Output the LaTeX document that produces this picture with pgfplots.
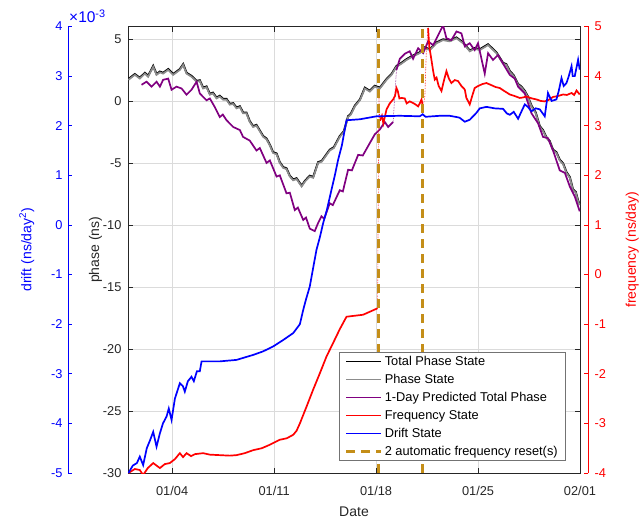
\documentclass[border=0pt]{standalone}
\usepackage{fontspec}
\setmainfont{Liberation Sans}
\usepackage{pgfplots}
\pgfplotsset{compat=1.18}
\usepackage{pgfplotstable}
\definecolor{mgray}{RGB}{140,140,140}
\definecolor{mpurple}{RGB}{128,0,128}
\definecolor{gold}{RGB}{196,142,24}
\definecolor{axgray}{RGB}{38,38,38}

% phase state (ns) vs day of January
\pgfplotstableread{
x y
1.0 1.7
1.44 2.1
1.78 1.8
2.13 2.2
2.35 1.95
2.70 2.75
2.93 2.1
3.16 2.3
3.38 2.2
3.73 2.5
4.07 2.1
4.30 2.3
4.53 2.5
4.76 2.9
4.99 2.2
5.33 1.95
5.68 1.55
5.90 1.6
6.13 1.0
6.36 1.1
6.59 0.5
6.80 0.6
7.05 0.2
7.27 0.35
7.50 0.1
7.73 0.1
7.96 -0.3
8.19 -0.25
8.42 -0.6
8.65 -0.5
8.87 -1.0
9.10 -1.0
9.33 -1.7
9.56 -2.1
9.79 -2.0
10.25 -2.9
10.48 -3.1
10.71 -3.6
10.93 -4.2
11.17 -4.3
11.39 -5.0
11.62 -5.4
11.85 -5.5
12.08 -6.1
12.31 -6.4
12.54 -6.3
12.89 -6.9
13.12 -6.5
13.45 -6.1
13.68 -6.2
14.02 -5.0
14.27 -4.9
14.82 -4.0
15.10 -3.8
15.51 -2.9
15.79 -2.5
16.08 -1.3
16.27 -1.1
16.54 -0.45
16.89 0.05
17.23 1.0
17.57 0.75
17.91 1.15
18.26 1.0
18.72 1.7
19.06 2.1
19.40 2.75
19.74 3.0
20.09 3.3
20.54 3.6
21.00 3.85
21.34 4.25
21.69 4.1
22.15 4.65
22.60 4.9
23.06 4.8
23.52 5.05
23.97 4.65
24.43 4.0
24.77 4.2
25.12 4.1
25.69 4.5
25.95 4.2
26.26 3.85
26.72 3.0
26.94 2.9
27.18 2.35
27.45 2.0
27.75 1.3
27.97 1.1
28.21 0.75
28.42 0.3
28.67 -0.45
28.96 -1.0
29.24 -2.1
29.45 -2.4
29.70 -3.0
29.92 -3.3
30.15 -4.0
30.38 -4.2
30.61 -4.8
30.84 -5.1
31.07 -5.8
31.30 -6.2
31.52 -7.2
31.71 -7.4
31.87 -8.1
31.98 -8.4
}\phasetab

% 1-day predicted total phase (ns), first part
\pgfplotstableread{
x y
1.90 1.3
2.24 1.55
2.59 1.15
2.93 1.55
3.16 1.15
3.38 1.7
3.73 1.8
3.96 0.9
4.30 1.15
4.65 1.0
4.99 0.5
5.33 0.9
5.68 1.55
5.90 0.6
6.36 0.05
6.59 0.2
6.93 -0.5
7.27 -1.3
7.48 -1.1
7.73 -1.55
8.19 -2.1
8.65 -2.35
8.87 -2.9
9.33 -3.2
9.79 -4.0
10.02 -3.8
10.48 -5.0
10.71 -4.8
11.17 -6.1
11.39 -6.0
11.85 -7.45
12.08 -7.4
12.42 -8.8
12.63 -8.6
13.00 -9.6
13.19 -9.4
13.45 -10.3
13.79 -10.5
14.00 -9.9
14.25 -9.3
14.44 -9.5
14.82 -8.25
15.03 -8.4
15.51 -7.2
15.72 -7.3
16.08 -5.55
16.34 -5.6
16.77 -4.35
17.09 -4.4
17.57 -3.4
17.91 -2.7
18.26 -2.3
18.60 -1.7
18.83 -2.1
19.17 -1.7
}\predA

% 1-day predicted total phase (ns), second part
\pgfplotstableread{
x y
19.40 2.5
19.63 3.4
19.97 3.8
20.31 4.0
20.54 3.4
20.89 4.25
21.23 3.85
21.57 4.8
21.92 4.5
22.26 5.3
22.60 6.1
22.83 5.05
23.17 4.9
23.52 5.6
23.86 5.45
24.09 4.4
24.43 4.65
24.77 4.1
25.00 4.65
25.46 2.2
25.69 3.85
26.03 3.3
26.37 3.7
26.72 3.0
27.18 2.1
27.52 1.8
27.75 1.15
28.21 0.6
28.67 -1.0
29.12 -1.8
29.46 -2.9
29.80 -3.0
30.15 -4.0
30.61 -5.6
30.96 -5.8
31.30 -6.9
31.64 -7.7
31.98 -8.9
}\predB

% frequency state (ns/day)
\pgfplotstableread{
x y
1.0 -4.0
1.44 -3.92
1.78 -3.94
2.01 -4.04
2.33 -3.9
2.70 -3.8
3.16 -3.9
3.50 -3.82
3.84 -3.8
4.19 -3.72
4.53 -3.6
4.75 -3.68
4.99 -3.6
5.30 -3.66
5.56 -3.62
6.13 -3.6
6.59 -3.63
7.27 -3.64
7.96 -3.65
8.42 -3.64
8.99 -3.6
9.56 -3.54
10.16 -3.5
10.71 -3.43
11.39 -3.33
11.87 -3.3
12.31 -3.23
12.54 -3.15
12.77 -3.0
13.23 -2.66
13.68 -2.32
14.14 -1.99
14.60 -1.65
15.05 -1.38
15.51 -1.1
15.97 -0.85
16.54 -0.83
17.11 -0.81
17.57 -0.75
18.10 -0.68
}\freqA
\pgfplotstableread{
x y
18.26 3.1
18.40 3.2
18.50 3.05
18.72 3.33
18.94 3.45
19.17 3.53
19.30 3.6
19.40 3.76
19.49 3.7
19.60 3.55
19.74 3.56
19.97 3.55
20.10 3.45
20.31 3.49
20.59 3.45
20.75 3.42
20.89 3.39
21.00 3.45
21.12 3.53
21.23 3.36
}\freqB
\pgfplotstableread{
x y
21.57 4.97
21.65 4.6
21.80 4.33
21.92 4.1
22.03 3.93
22.15 3.97
22.30 3.8
22.49 3.7
22.65 3.9
22.83 4.1
23.00 3.95
23.17 3.86
23.40 3.92
23.63 3.9
23.86 3.8
24.09 3.73
24.20 3.56
24.43 3.43
24.60 3.6
24.77 3.76
25.00 3.8
25.30 3.84
25.58 3.86
25.90 3.82
26.20 3.78
26.49 3.76
26.80 3.7
27.18 3.63
27.50 3.6
27.86 3.56
28.10 3.57
28.32 3.59
28.70 3.55
29.01 3.53
29.30 3.5
29.58 3.49
29.85 3.52
30.15 3.58
30.50 3.6
30.84 3.63
31.10 3.62
31.42 3.66
31.60 3.62
31.76 3.71
31.98 3.63
}\freqC

% drift state (units of 1e-3 ns/day^2)
\pgfplotstableread{
x y
1.0 -5.0
1.30 -4.85
1.58 -4.8
1.78 -4.67
2.01 -4.84
2.26 -4.5
2.47 -4.35
2.70 -4.17
2.93 -4.47
3.16 -4.2
3.37 -4.0
3.62 -3.86
3.77 -3.7
3.96 -3.93
4.19 -3.5
4.53 -3.19
4.74 -3.25
4.87 -3.36
5.08 -3.15
5.33 -3.06
5.49 -3.15
5.70 -2.95
5.90 -2.95
6.02 -2.75
7.27 -2.75
8.42 -2.72
9.56 -2.62
10.23 -2.55
10.93 -2.45
11.62 -2.32
12.31 -2.18
12.77 -2.0
13.00 -1.71
13.19 -1.5
13.45 -1.24
13.66 -0.9
13.91 -0.5
14.14 -0.25
14.37 0.04
14.62 0.3
14.94 0.71
15.17 1.0
15.40 1.32
15.65 1.6
15.97 2.11
16.89 2.13
18.03 2.19
19.63 2.2
21.00 2.19
21.20 2.23
21.40 2.18
22.37 2.2
23.06 2.2
23.61 2.17
23.74 2.16
24.09 2.08
24.43 2.12
24.89 2.26
25.12 2.35
25.58 2.38
26.14 2.35
26.72 2.34
26.97 2.25
27.18 2.22
27.45 2.28
27.75 2.14
28.00 2.3
28.21 2.43
28.42 2.38
28.67 2.29
28.96 2.35
29.24 2.33
29.58 2.19
29.80 2.66
30.05 2.5
30.38 2.53
30.54 2.7
30.73 2.96
30.88 2.8
31.07 2.86
31.23 3.0
31.42 3.2
31.50 3.0
31.64 3.0
31.87 3.33
31.98 3.13
}\drifttab

\pgfplotsset{
  box/.style={at={(128pt,47pt)}, anchor=south west, width=452pt, height=446.5pt,
    scale only axis, xmin=0.97, xmax=32},
}
\tikzset{
  tfont/.style={font=\fontsize{12.8}{15}\selectfont},
  lfont/.style={font=\fontsize{14}{16}\selectfont},
}

\begin{document}
\begin{tikzpicture}
\useasboundingbox (0pt,0pt) rectangle (642pt,520pt);

% main phase axis
\begin{axis}[box, ymin=-30, ymax=6,
  xtick={4,11,18,25,32}, xticklabels={01/04,01/11,01/18,01/25,02/01},
  ytick={-30,-25,...,5},
  tick align=inside, major tick length=5pt,
  grid=major, major grid style={black!14, line width=0.6pt},
  axis line style={axgray, line width=0.6pt},
  tick style={axgray, line width=0.6pt},
  ticklabel style={tfont, text=axgray},
  xticklabel shift=10pt, yticklabel shift=3pt,
  /pgf/number format/assume math mode=true,
  xlabel={Date}, ylabel={phase (ns)},
  label style={lfont, text=axgray},
  xlabel shift=4pt, ylabel shift=-6pt,
]
\addplot[black, line width=2pt, transform canvas={yshift=0.8pt}] table {\phasetab};
\addplot[mgray, line width=1.7pt] table {\phasetab};
\addplot[mpurple, line width=1.7pt] table {\predA};
\addplot[mpurple, line width=0.6pt, densely dotted] coordinates {(19.17,-1.7) (19.40,2.5)};
\addplot[mpurple, line width=1.7pt] table {\predB};
\end{axis}

% frequency data
\begin{axis}[box, ymin=-4, ymax=5, hide axis]
\addplot[red, line width=1.7pt] table {\freqA};
\addplot[red, line width=0.6pt, densely dotted] coordinates {(18.10,-0.68) (18.15,1.5) (18.20,3.55) (18.26,3.1)};
\addplot[red, line width=1.7pt] table {\freqB};
\addplot[red, line width=0.6pt, densely dotted] coordinates {(21.23,3.36) (21.35,3.6) (21.45,4.5) (21.57,4.97)};
\addplot[red, line width=1.7pt] table {\freqC};
\end{axis}

% drift data, resets and legend
\begin{axis}[box, ymin=-5, ymax=4, hide axis,
  legend cell align=left,
  legend style={at={(0.969,0.027)}, anchor=south east, draw=black!55,
    line width=0.6pt, fill=white, font=\fontsize{12.8}{15}\selectfont,
    row sep=3.2pt, inner xsep=6pt, inner ysep=2pt}]
\addplot[blue, line width=1.7pt, forget plot] table {\drifttab};
\addplot[gold, line width=3pt, dash pattern=on 9pt off 6pt, forget plot] coordinates {(18.15,-5) (18.15,4)};
\addplot[gold, line width=3pt, dash pattern=on 9pt off 6pt, forget plot] coordinates {(21.21,-5) (21.21,4)};
\addlegendimage{legend image code/.code={\draw[draw=black, line width=1.4pt] (0pt,0pt) -- (35pt,0pt);}}
\addlegendentry{Total Phase State}
\addlegendimage{legend image code/.code={\draw[draw=mgray, line width=1.4pt] (0pt,0pt) -- (35pt,0pt);}}
\addlegendentry{Phase State}
\addlegendimage{legend image code/.code={\draw[draw=mpurple, line width=1.4pt] (0pt,0pt) -- (35pt,0pt);}}
\addlegendentry{1-Day Predicted Total Phase}
\addlegendimage{legend image code/.code={\draw[draw=red, line width=1.4pt] (0pt,0pt) -- (35pt,0pt);}}
\addlegendentry{Frequency State}
\addlegendimage{legend image code/.code={\draw[draw=blue, line width=1.4pt] (0pt,0pt) -- (35pt,0pt);}}
\addlegendentry{Drift State}
\addlegendimage{legend image code/.code={\draw[draw=gold, line width=3pt, dash pattern=on 9pt off 6pt] (0pt,0pt) -- (35pt,0pt);}}
\addlegendentry{2 automatic frequency reset(s)}
\end{axis}

% frequency scale (right)
\begin{axis}[at={(580pt,47pt)}, anchor=south west, width=8pt, height=446.5pt,
  scale only axis, xmin=0, xmax=1, ymin=-4, ymax=5,
  axis x line=none, axis y line=right,
  ytick={-4,-3,...,5}, tick align=inside, major tick length=4pt,
  axis line style={red, line width=0.6pt, -},
  tick style={red, line width=0.6pt},
  yticklabel style={tfont, text=red}, yticklabel shift=3pt,
  /pgf/number format/assume math mode=true,
  ylabel={frequency (ns/day)}, ylabel style={lfont, text=red}, ylabel shift=13pt,
]
\end{axis}

% drift scale (left)
\begin{axis}[at={(68pt,47pt)}, anchor=south west, width=8pt, height=446.5pt,
  scale only axis, xmin=0, xmax=1, ymin=-5, ymax=4,
  axis x line=none, axis y line=left,
  ytick={-5,-4,...,4}, tick align=inside, major tick length=4pt,
  axis line style={blue, line width=0.6pt, -},
  tick style={blue, line width=0.6pt},
  yticklabel style={tfont, text=blue}, yticklabel shift=2pt,
  /pgf/number format/assume math mode=true,
  ylabel={drift (ns/day\textsuperscript{2})}, ylabel style={lfont, text=blue}, ylabel shift=10pt,
]
\end{axis}
\node[anchor=base west, inner sep=0pt, text=blue, font=\fontsize{15.5}{18}\selectfont]
  at (69pt,497pt) {×10\textsuperscript{-3}};
\end{tikzpicture}
\end{document}
